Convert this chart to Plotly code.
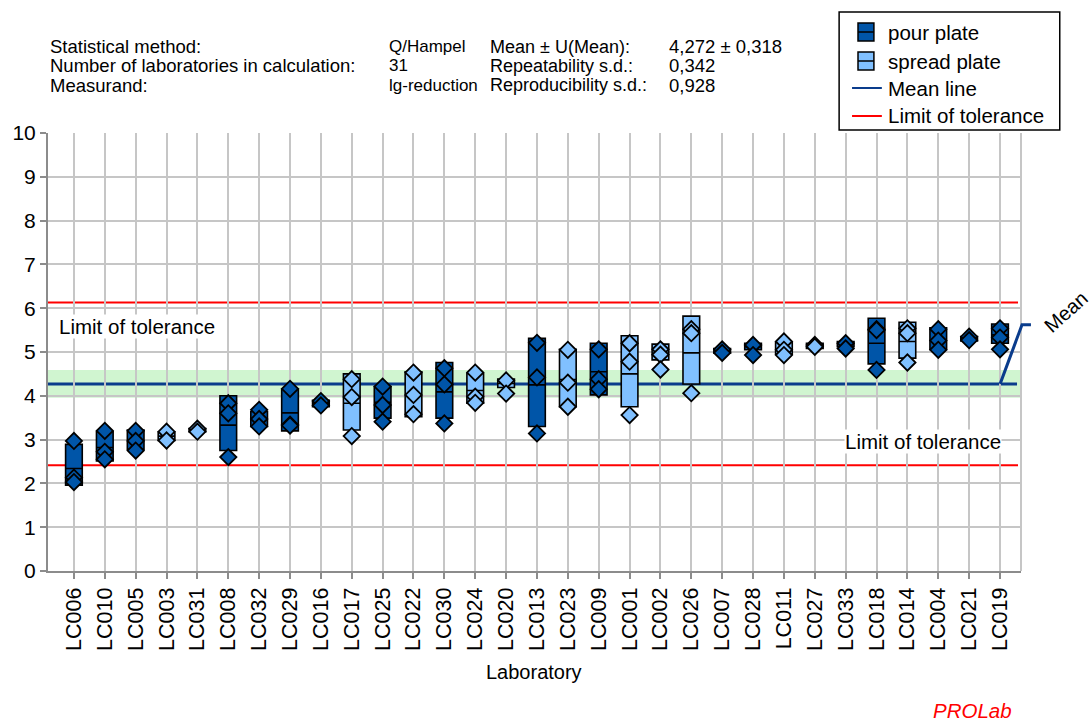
import plotly.graph_objects as go

# ---- data -------------------------------------------------------------
labs = ["LC006", "LC010", "LC005", "LC003", "LC031", "LC008", "LC032", "LC029",
        "LC016", "LC017", "LC025", "LC022", "LC030", "LC024", "LC020", "LC013",
        "LC023", "LC009", "LC001", "LC002", "LC026", "LC007", "LC028", "LC011",
        "LC027", "LC033", "LC018", "LC014", "LC004", "LC021", "LC019"]

# P = pour plate, S = spread plate
method = ["P", "P", "P", "S", "S", "P", "P", "P",
          "P", "S", "P", "S", "P", "S", "S", "P",
          "S", "P", "S", "S", "S", "P", "P", "S",
          "S", "P", "P", "S", "P", "P", "P"]

box_low = [1.96, 2.51, 2.78, 2.98, 3.18, 2.75, 3.30, 3.20,
           3.75, 3.22, 3.49, 3.52, 3.49, 3.83, 4.19, 3.30,
           3.75, 4.02, 3.75, 4.82, 4.27, 4.98, 5.05, 4.95,
           5.08, 5.12, 4.73, 4.86, 5.06, 5.25, 5.20]
box_mid = [2.34, 2.82, 2.98, 3.08, 3.21, 3.33, 3.48, 3.61,
           3.83, 3.83, 3.85, 4.04, 4.09, 4.12, 4.28, 4.25,
           4.37, 4.55, 4.50, 4.97, 4.98, 5.03, 5.12, 5.07,
           5.14, 5.18, 5.20, 5.24, 5.28, 5.30, 5.39]
box_high = [2.89, 3.18, 3.22, 3.17, 3.25, 4.00, 3.64, 4.15,
            3.90, 4.50, 4.21, 4.55, 4.76, 4.51, 4.38, 5.31,
            5.06, 5.20, 5.37, 5.18, 5.82, 5.08, 5.20, 5.22,
            5.20, 5.24, 5.77, 5.68, 5.55, 5.35, 5.64]

replicates = [
    [2.97, 2.13, 2.03], [3.20, 2.72, 2.55], [3.20, 2.97, 2.75], [3.18, 2.98],
    [3.25, 3.18], [3.83, 3.60, 2.60], [3.68, 3.47, 3.30], [4.16, 3.34, 3.32],
    [3.88, 3.78], [4.38, 3.97, 3.08], [4.21, 3.79, 3.41], [4.53, 4.02, 3.58],
    [4.63, 4.26, 3.37], [4.53, 3.98, 3.84], [4.35, 4.05], [5.21, 4.42, 3.14],
    [5.05, 4.30, 3.75], [5.06, 4.38, 4.15], [5.20, 4.78, 3.56], [5.06, 4.94, 4.60],
    [5.52, 5.43, 4.06], [5.06, 4.98], [5.16, 4.93], [5.24, 5.05, 4.93],
    [5.16, 5.12], [5.20, 5.08], [5.52, 5.50, 4.59], [5.54, 5.43, 4.76],
    [5.52, 5.26, 5.05], [5.35, 5.27], [5.54, 5.33, 5.06],
]

mean_value = 4.272
u_mean = 0.318
tolerance_low = 2.416
tolerance_high = 6.128
mean_tag_level = 5.62

header_rows = [
    ("Statistical method:", "Q/Hampel", "Mean \u00b1 U(Mean):", "4,272 \u00b1 0,318"),
    ("Number of laboratories in calculation:", "31", "Repeatability s.d.:", "0,342"),
    ("Measurand:", "lg-reduction", "Reproducibility s.d.:", "0,928"),
]

# ---- styling ---------------------------------------------------------
FONT = "Arial, Liberation Sans, sans-serif"
DARK = "#0055a8"
LIGHT = "#80c0ff"
NAVY = "#0a3c8c"
RED = "#ff0000"
GRID = "#c6c6c6"
AXIS = "#8c8c8c"

W, H = 1091, 722
L, R, T, B = 42, 1021, 133, 571   # plot area in pixels


def px(x):
    return (x - L) / (R - L)


def py(y):
    return (B - y) / (B - T)


colors = {"P": DARK, "S": LIGHT}

fig = go.Figure()

for m in ["P", "S"]:
    idx = [i for i, k in enumerate(method) if k == m]
    fig.add_trace(go.Box(
        x=[labs[i] for i in idx],
        q1=[box_low[i] for i in idx],
        median=[box_mid[i] for i in idx],
        q3=[box_high[i] for i in idx],
        lowerfence=[box_low[i] for i in idx],
        upperfence=[box_high[i] for i in idx],
        width=0.54, whiskerwidth=0, boxpoints=False,
        fillcolor=colors[m], line=dict(color="black", width=1.6),
        showlegend=False, hoverinfo="skip",
    ))

for m in ["P", "S"]:
    xs, ys = [], []
    for i, k in enumerate(method):
        if k == m:
            for v in replicates[i]:
                xs.append(labs[i])
                ys.append(v)
    fig.add_trace(go.Scatter(
        x=xs, y=ys, mode="markers",
        marker=dict(symbol="diamond", size=12.5, color=colors[m],
                    line=dict(color="black", width=1.8)),
        showlegend=False, hoverinfo="skip",
    ))

shapes = []
# uncertainty band around the mean
shapes.append(dict(type="rect", xref="paper", yref="y", x0=0, x1=1,
                   y0=mean_value - u_mean, y1=mean_value + u_mean,
                   fillcolor="#d0f5d0", line=dict(width=0), layer="below"))
# tolerance limits
for lim in (tolerance_low, tolerance_high):
    shapes.append(dict(type="line", xref="paper", yref="y", x0=0, x1=px(1018),
                       y0=lim, y1=lim, line=dict(color=RED, width=2),
                       layer="between"))
# mean line with tag leader
shapes.append(dict(type="line", xref="paper", yref="y", x0=0, x1=px(1017),
                   y0=mean_value, y1=mean_value,
                   line=dict(color=NAVY, width=3), layer="between"))
shapes.append(dict(type="path", xref="paper", yref="y",
                   path=f"M {px(1000)},{mean_value} L {px(1022)},{mean_tag_level} "
                        f"L {px(1031)},{mean_tag_level}",
                   line=dict(color=NAVY, width=3), layer="above"))
# right border of plot area
shapes.append(dict(type="line", xref="paper", yref="paper", x0=1, x1=1, y0=0, y1=1,
                   line=dict(color=GRID, width=2), layer="below"))

# legend frame and symbols
shapes.append(dict(type="rect", xref="paper", yref="paper",
                   x0=px(838), x1=px(1060), y0=py(12), y1=py(130),
                   line=dict(color="black", width=1.5), fillcolor="white"))
for yc, col in ((32, DARK), (61, LIGHT)):
    shapes.append(dict(type="rect", xref="paper", yref="paper",
                       x0=px(857), x1=px(873), y0=py(yc - 9), y1=py(yc + 9),
                       line=dict(color="black", width=1.5), fillcolor=col))
    shapes.append(dict(type="line", xref="paper", yref="paper",
                       x0=px(857), x1=px(873), y0=py(yc), y1=py(yc),
                       line=dict(color="black", width=1.5)))
shapes.append(dict(type="line", xref="paper", yref="paper",
                   x0=px(851), x1=px(881), y0=py(88), y1=py(88),
                   line=dict(color=NAVY, width=2)))
shapes.append(dict(type="line", xref="paper", yref="paper",
                   x0=px(851), x1=px(881), y0=py(116), y1=py(116),
                   line=dict(color=RED, width=2)))

annotations = []


def text(x, y, s, size=20, xanchor="left", angle=0, color="black", bg=None):
    d = dict(xref="paper", yref="paper", x=px(x), y=py(y), text=s,
             showarrow=False, xanchor=xanchor, yanchor="middle",
             textangle=angle, font=dict(family=FONT, size=size, color=color))
    if bg:
        d["bgcolor"] = bg
        d["borderpad"] = 0
    annotations.append(d)


# header block: label / value / statistic / value columns
header_cols = ((42, 18.5), (383, 17), (485, 18), (665, 18.5))
for r, row in enumerate(header_rows):
    y = 47 + r * 19
    for (x, size), s in zip(header_cols, row):
        text(x, y, s, size=size)

for yc, s in ((32, "pour plate"), (61, "spread plate"),
              (88, "Mean line"), (116, "Limit of tolerance")):
    text(885, yc, s, size=20.5)

text(52, 326, "Limit of tolerance", size=20.5, bg="white")
text(1002, 441, "Limit of tolerance", size=20.5, xanchor="right", bg="white")
text(1066, 312, "Mean", xanchor="center", angle=-42)
text(531, 672, "Laboratory", xanchor="center")
text(1014, 710, "<i>PROLab</i>", xanchor="right", color=RED, size=20.5)

fig.update_layout(
    width=W, height=H,
    margin=dict(l=L, r=W - R, t=T, b=H - B, pad=0),
    paper_bgcolor="white", plot_bgcolor="white",
    boxmode="overlay",
    shapes=shapes, annotations=annotations,
    font=dict(family=FONT, size=20, color="black"),
    xaxis=dict(type="category", categoryorder="array", categoryarray=labs,
               range=[-0.84, 30.68], tickangle=-90,
               showgrid=True, gridcolor=GRID, gridwidth=2,
               showline=True, linecolor=AXIS, linewidth=2,
               ticks="outside", ticklen=6, tickcolor=AXIS, tickwidth=2,
               tickfont=dict(family=FONT, size=21.5), zeroline=False,
               fixedrange=True),
    yaxis=dict(range=[0, 10], dtick=1, tick0=0,
               showgrid=True, gridcolor=GRID, gridwidth=2,
               showline=True, linecolor=AXIS, linewidth=2,
               ticks="outside", ticklen=6, tickcolor=AXIS, tickwidth=2,
               tickfont=dict(family=FONT, size=21), zeroline=False,
               fixedrange=True),
)

fig.write_html("out.html")
